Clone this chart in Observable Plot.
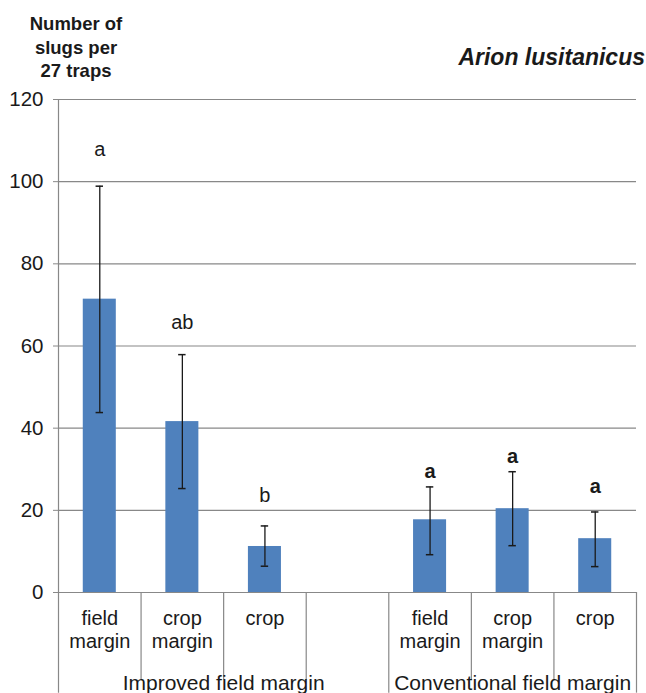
<!DOCTYPE html>
<html>
<head>
<meta charset="utf-8">
<script src="https://cdn.jsdelivr.net/npm/d3@7"></script>
<script src="https://cdn.jsdelivr.net/npm/@observablehq/plot@0.6"></script>
<style>
  html, body { margin: 0; padding: 0; background: #fff; }
  #wrap { position: relative; width: 646px; height: 693px; font-family: "Liberation Sans", Arial, sans-serif; color: #1a1a1a; }
  #ytitle { position: absolute; left: 10px; top: 12px; width: 132px; text-align: center; font-weight: bold; font-size: 18.5px; line-height: 23.5px; }
  #species { position: absolute; right: 1px; top: 44px; font-weight: bold; font-style: italic; font-size: 23px; }
  #chart { position: absolute; left: 0; top: 0; }
</style>
</head>
<body>
<div id="wrap">
  <div id="chart"></div>
  <div id="ytitle">Number of<br>slugs per<br>27 traps</div>
  <div id="species">Arion lusitanicus</div>
</div>
<script>
// Data
const slotLabels = ["field\nmargin", "crop\nmargin", "crop", "", "field\nmargin", "crop\nmargin", "crop"];
const groups = ["Improved field margin", "Conventional field margin"];
const groupSlots = [[0, 4], [4, 7]];
const barSlot = [0, 1, 2, 4, 5, 6];
const means = [71.4, 41.6, 11.2, 17.7, 20.4, 13.1];
const errLow = [43.8, 25.3, 6.4, 9.2, 11.4, 6.3];
const errHigh = [98.9, 57.9, 16.2, 25.7, 29.4, 19.6];
const letters = ["a", "ab", "b", "a", "a", "a"];
const letterY = [107.8, 65.8, 23.6, 29.5, 33.2, 25.9];
const letterBold = [false, false, false, true, true, true];
const yTicks = [0, 20, 40, 60, 80, 100, 120];

const bars = barSlot.map((s, i) => ({
  slot: s, mean: means[i], lo: errLow[i], hi: errHigh[i],
  letter: letters[i], ly: letterY[i], bold: letterBold[i]
}));
const slots = slotLabels.map((t, i) => ({i, t}));
const innerEdges = [1, 2, 3, 5, 6];
const groupEdges = [0, 4, 7];

const gray = "#888";
const ink = "#1a1a1a";
const fs = 20;

const chart = Plot.plot({
  width: 646,
  height: 693,
  marginLeft: 58,
  marginRight: 10,
  marginTop: 99,
  marginBottom: 101,
  style: {fontFamily: "Liberation Sans, Arial, sans-serif", background: "transparent", overflow: "visible"},
  x: {type: "linear", domain: [0, 7], axis: null},
  y: {domain: [0, 120], axis: null},
  marks: [
    Plot.ruleY(yTicks, {x1: 0, x2: 7, stroke: gray, strokeWidth: 1.2}),
    Plot.axisY({ticks: yTicks, tickSize: 5, tickPadding: 10, stroke: gray, fill: ink, fontSize: fs + 0.5, tickFormat: d => d}),
    Plot.ruleX([0], {y1: -24.5, y2: 120, stroke: gray, strokeWidth: 1.2}),
    Plot.ruleX(innerEdges, {y1: 0, y2: -21.3, stroke: gray, strokeWidth: 1.2}),
    Plot.ruleX(groupEdges.slice(1), {y1: 0, y2: -24.5, stroke: gray, strokeWidth: 1.2}),
    Plot.rectY(bars, {x1: d => d.slot + 0.3, x2: d => d.slot + 0.7, y1: 0, y2: "mean", fill: "#4F81BD"}),
    Plot.ruleX(bars, {x: d => d.slot + 0.5, y1: "lo", y2: "hi", stroke: ink, strokeWidth: 1.3}),
    Plot.ruleY(bars, {y: "hi", x1: d => d.slot + 0.455, x2: d => d.slot + 0.545, stroke: ink, strokeWidth: 1.5}),
    Plot.ruleY(bars, {y: "lo", x1: d => d.slot + 0.455, x2: d => d.slot + 0.545, stroke: ink, strokeWidth: 1.5}),
    Plot.text(bars.filter(d => !d.bold), {x: d => d.slot + 0.5, y: "ly", text: "letter", fontSize: fs, fill: ink}),
    Plot.text(bars.filter(d => d.bold), {x: d => d.slot + 0.5, y: "ly", text: "letter", fontSize: fs, fontWeight: "bold", fill: ink}),
    Plot.text(slots, {x: d => d.i + 0.5, y: 0, text: "t", fontSize: fs, fill: ink, lineAnchor: "top", lineHeight: 1.15, dy: 16}),
    Plot.text(groups, {x: (d, i) => (groupSlots[i][0] + groupSlots[i][1]) / 2, y: 0, text: d => d, fontSize: 21, fill: ink, dy: 91})
  ]
});
document.getElementById("chart").appendChild(chart);
</script>
</body>
</html>
